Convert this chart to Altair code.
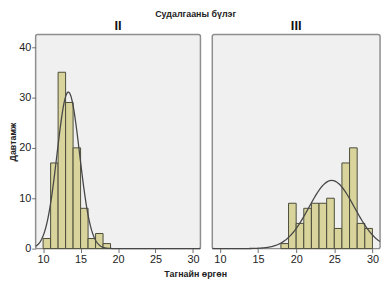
import altair as alt
import pandas as pd
import numpy as np

# Histogram data (bin starts, width 1)
left_bins = [10, 11, 12, 13, 14, 15, 16, 17, 18]
left_counts = [2, 17, 35, 29, 20, 8, 2, 3, 1]
right_bins = [18, 19, 20, 21, 22, 23, 24, 25, 26, 27, 28, 29]
right_counts = [1, 9, 5, 8, 9, 9, 10, 4, 17, 20, 5, 4]
group_labels = ["II", "III"]
x_ticks = [10, 15, 20, 25, 30]
y_ticks = [0, 10, 20, 30, 40]

FONT = "Liberation Sans"
BAR_FILL = "#d8d49c"
BAR_STROKE = "#4b4b3a"
CURVE = "#474747"


def stats(bins, counts):
    mids = np.array(bins) + 0.5
    c = np.array(counts)
    n = c.sum()
    mean = (mids * c).sum() / n
    sd = np.sqrt(((mids - mean) ** 2 * c).sum() / (n - 1))
    return float(n), float(mean), float(sd)


def panel(bins, counts, label, show_y, width):
    df = pd.DataFrame({"start": bins, "count": counts})
    df["end"] = df["start"] + 1
    df["zero"] = 0
    n, mean, sd = stats(bins, counts)
    xs = alt.Scale(domain=[9, 31], nice=False, zero=False)
    ys = alt.Scale(domain=[0, 42.5], nice=False)
    xaxis = alt.Axis(values=x_ticks, title=None, grid=False, domain=False,
                     tickColor="#707070", tickSize=4, labelFontSize=11,
                     labelColor="#222222", labelFont=FONT, labelPadding=1)
    if show_y:
        yaxis = alt.Axis(values=y_ticks, title="Давтамж", grid=False, domain=False,
                         tickColor="#707070", tickSize=4, labelFontSize=11,
                         labelColor="#222222", labelFont=FONT, labelPadding=1,
                         titleFont=FONT, titleFontSize=9, titleFontWeight="bold",
                         titleColor="#222222", titlePadding=1)
    else:
        yaxis = None
    bars = alt.Chart(df).mark_rect(fill=BAR_FILL, stroke=BAR_STROKE, strokeWidth=1,
                                   opacity=1).encode(
        x=alt.X("start:Q", scale=xs, axis=xaxis),
        x2="end:Q",
        y=alt.Y("count:Q", scale=ys, axis=yaxis),
        y2="zero:Q",
    )
    expr = (f"{n}/({sd}*sqrt(2*PI))*exp(-0.5*pow((datum.x-{mean})/{sd},2))")
    curve = alt.Chart(alt.sequence(9, 31.01, 0.1, as_="x")).transform_calculate(
        y=expr
    ).mark_line(color=CURVE, strokeWidth=1.3).encode(
        x=alt.X("x:Q", scale=xs, axis=xaxis),
        y=alt.Y("y:Q", scale=ys, axis=yaxis),
    )
    return alt.layer(bars, curve).properties(
        width=width, height=217,
        title=alt.TitleParams(label, font=FONT, fontSize=13, fontWeight="bold",
                              color="#111111", anchor="middle", offset=2),
    )


left = panel(left_bins, left_counts, group_labels[0], True, 167)
right = panel(right_bins, right_counts, group_labels[1], False, 170)

inner = alt.hconcat(left, right, spacing=4).properties(
    title=alt.TitleParams("Тагнайн өргөн", orient="bottom", anchor="middle",
                          font=FONT, fontSize=9, fontWeight="bold",
                          color="#222222", offset=5)
)
chart = alt.vconcat(inner, spacing=0).properties(
    title=alt.TitleParams("Судалгааны бүлэг", anchor="middle", font=FONT,
                          fontSize=9, fontWeight="bold", color="#222222", offset=0),
    padding={"left": 0, "top": 0, "right": 0, "bottom": 0},
    background="white",
).configure_view(
    fill="#f0f0f0", stroke="#8e8e8e", strokeWidth=1.5, cornerRadius=2
)

chart.save("out.html", embed_options={"renderer": "svg", "actions": False})
